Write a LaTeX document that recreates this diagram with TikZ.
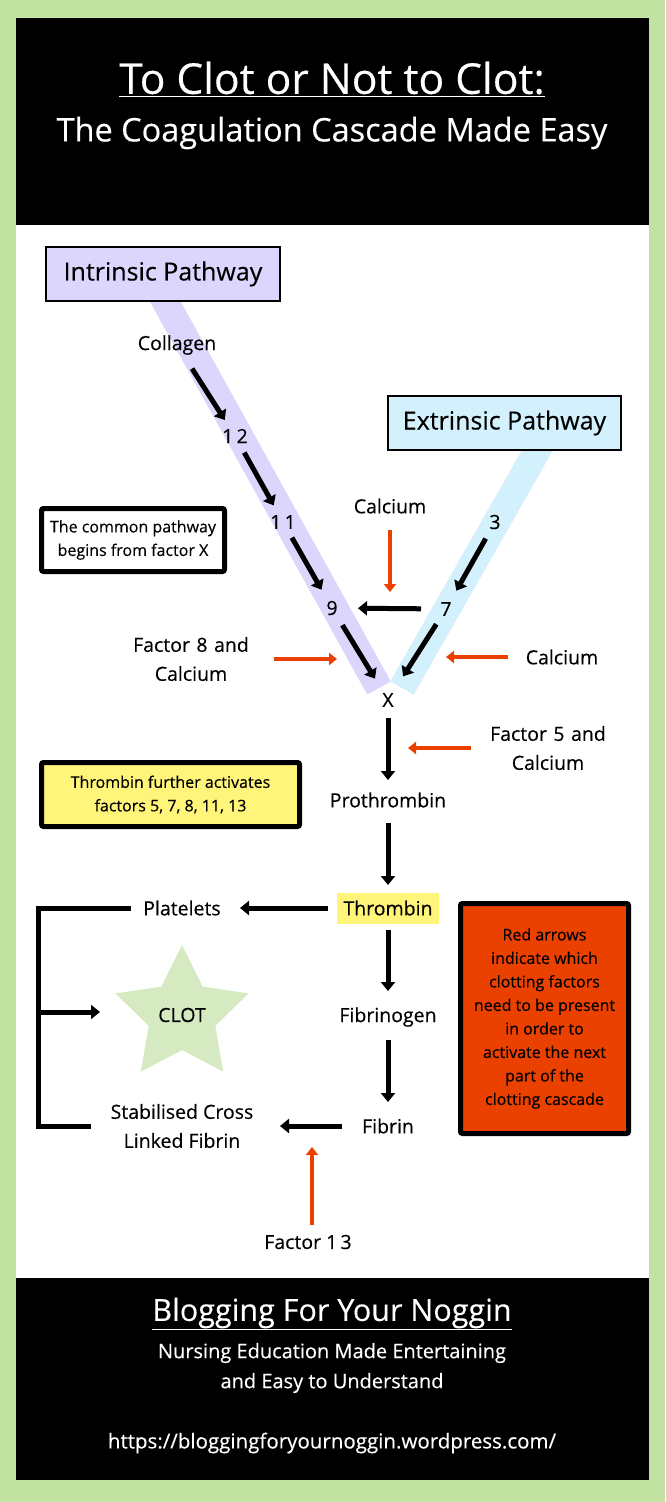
\documentclass[tikz,border=0pt]{standalone}
\usepackage{fontspec}
\setmainfont{Open Sans}[FakeBold=0.3]
\usetikzlibrary{arrows.meta,shapes.geometric}
\definecolor{bggreen}{RGB}{193,226,160}
\definecolor{lav}{RGB}{221,214,252}
\definecolor{skyc}{RGB}{211,241,252}
\definecolor{yel}{RGB}{255,245,122}
\definecolor{stargreen}{RGB}{213,234,193}
\definecolor{redc}{RGB}{234,64,0}
\newcommand{\fs}[1]{\fontsize{#1}{#1}\selectfont}
\begin{document}
\begin{tikzpicture}[x=1pt,y=-1pt,
  lbl/.style={font=\fontsize{19.5}{29}\selectfont, align=center, inner sep=0pt},
  num/.style={font=\fontsize{19.5}{20}\selectfont, inner sep=0pt},
  pathbox/.style={draw=black, line width=1.6pt, font=\fontsize{25}{28}\selectfont, inner sep=0pt},
  notebox/.style={draw=black, line width=5pt, rounded corners=2pt, align=center, inner sep=0pt, font=\fontsize{16}{23.5}\selectfont},
  blk/.style={line width=5pt, -{Triangle[length=9pt,width=14pt]}},
  redarrow/.style={draw=redc, line width=4pt, -{Triangle[length=8pt,width=12pt]}},
  bracket/.style={line width=5pt, line join=miter},
  band/.style={line width=27pt}
]
\useasboundingbox (0,0) rectangle (665,1502);
% background
\fill[bggreen] (0,0) rectangle (665,1502);
\fill[white] (16,18) rectangle (649,1480);
\fill[black] (16,18) rectangle (649,225);
\fill[black] (16,1278) rectangle (649,1480);

% header
\node[text=white, font=\fs{42.5}, inner sep=0pt] (title) at (332,79) {\underline{To Clot or Not to Clot:}};
\node[text=white, font=\fs{32.5}, inner sep=0pt] (subtitle) at (332,133) {The Coagulation Cascade Made Easy};

% bands
\draw[band, lav] (160,292) -- (379,688);
\draw[band, skyc] (541,444) -- (402,688);

% pathway boxes
\node[pathbox, fill=lav, minimum width=234, minimum height=54] (intr) at (163,274) {Intrinsic Pathway};
\node[pathbox, fill=skyc, minimum width=233, minimum height=54] (extr) at (504.5,423) {Extrinsic Pathway};

% intrinsic chain
\node[lbl] (collagen) at (177,345) {Collagen};
\node[num] (n12) at (235,436) {1\,2};
\node[num] (n11) at (283,522) {1\,1};
\node[num] (n9) at (332,608) {9};
\node[num] (x) at (388,700) {X};
\draw[blk, shorten <=28pt, shorten >=19pt] (collagen.center) -- (n12.center);
\draw[blk, shorten <=19pt, shorten >=19pt] (n12.center) -- (n11.center);
\draw[blk, shorten <=18pt, shorten >=21pt] (n11.center) -- (n9.center);
\draw[blk, shorten <=20pt, shorten >=25pt] (n9.center) -- (x.center);

% extrinsic chain
\node[num] (n3) at (495,522) {3};
\node[num] (n7) at (446,609) {7};
\draw[blk, shorten <=19pt, shorten >=21pt] (n3.center) -- (n7.center);
\draw[blk, shorten <=18pt, shorten >=28pt] (n7.center) -- (x.center);
\draw[blk, shorten <=25pt, shorten >=26pt] (n7.center) -- (n9.center);

% cofactors
\node[lbl] (calctop) at (390,506) {Calcium};
\coordinate (c1) at (390,592);
\draw[redarrow, shorten <=24pt] (calctop.center) -- (c1);

\node[lbl, text width=80pt] (calcright) at (562,657) {Calcium};
\coordinate (c2) at (446,657);
\draw[redarrow, shorten <=14pt] (calcright.west) -- (c2);

\node[lbl, text width=130pt] (f8) at (191,659) {Factor 8 and\\Calcium};
\coordinate (c3) at (337,659);
\draw[redarrow, shorten <=18pt] (f8.east) -- (c3);

\node[lbl, text width=130pt] (f5) at (548,748) {Factor 5 and\\Calcium};
\coordinate (c4) at (408,748);
\draw[redarrow, shorten <=12pt] (f5.west) -- (c4);

% common pathway
\node[lbl] (proth) at (388,800) {Prothrombin};
\node[lbl, fill=yel, minimum width=102pt, minimum height=31pt] (thr) at (388,908) {Thrombin};
\draw[blk, shorten <=18pt, shorten >=20pt] (x.center) -- (proth.center);
\draw[blk, shorten <=23pt, shorten >=23pt] (proth.center) -- (thr.center);

\node[lbl] (plat) at (182,908) {Platelets};
\draw[blk, shorten <=60pt, shorten >=58pt] (thr.center) -- (plat.center);

\node[lbl] (fibgen) at (388,1017) {Fibrinogen};
\node[lbl] (fib) at (388,1126) {Fibrin};
\draw[blk, shorten <=22pt, shorten >=26pt] (thr.center) -- (fibgen.center);
\draw[blk, shorten <=23pt, shorten >=24pt] (fibgen.center) -- (fib.center);

\node[lbl] (stab) at (182,1126) {Stabilised Cross\\Linked Fibrin};
\draw[blk, shorten <=46pt, shorten >=98pt] (fib.center) -- (stab.center);

\node[lbl] (f13) at (308,1242) {Factor 1\,3};
\coordinate (c5) at (312,1147);
\draw[redarrow, shorten <=10pt] (f13.north -| c5) -- (c5);

% clot star
\node[star, star points=5, star point ratio=2, minimum size=140pt, inner sep=0pt, fill=stargreen, font=\fontsize{19.5}{20}\selectfont] (clot) at (182,1015) {CLOT};

% bracket
\coordinate (brbot) at (38,1126);
\coordinate (brmid) at (38,1012);
\draw[bracket] ([xshift=-12pt]plat.west) -| (brbot) -- (91,1126);
\draw[blk] (brmid) -- ([xshift=-82pt]clot.center |- brmid);

% notes
\node[notebox, fill=white, minimum width=183pt, minimum height=63pt] (common) at (133,540) {The common pathway\\begins from factor X};
\node[notebox, fill=yel, minimum width=258pt, minimum height=64pt] (further) at (170.5,794.5) {Thrombin further activates\\factors 5, 7, 8, 11, 13};
\node[notebox, fill=redc, minimum width=168pt, minimum height=230pt] (rednote) at (544.5,1018.5) {Red arrows\\indicate which\\clotting factors\\need to be present\\in order to\\activate the next\\part of the\\clotting cascade};

% footer
\node[text=white, font=\fs{30.5}, inner sep=0pt] (blog) at (332,1314) {\underline{Blogging For Your Noggin}};
\node[text=white, font=\fontsize{20}{30}\selectfont, align=center, inner sep=0pt] (tag) at (332,1368) {Nursing Education Made Entertaining\\and Easy to Understand};
\node[text=white, font=\fs{20.5}, inner sep=0pt] (url) at (332,1443) {https://bloggingforyournoggin.wordpress.com/};
\end{tikzpicture}
\end{document}
